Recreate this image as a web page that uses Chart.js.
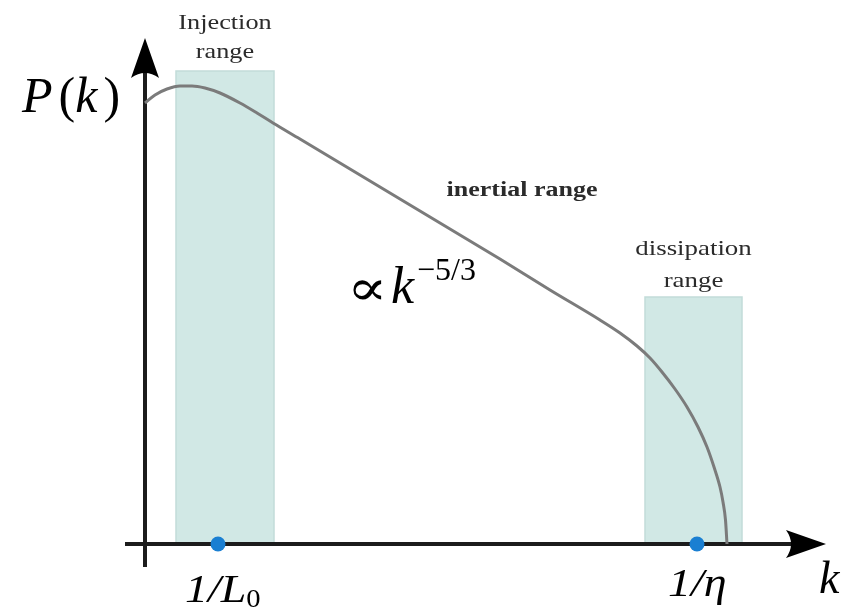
<!DOCTYPE html>
<html>
<head>
<meta charset="utf-8">
<script src="https://cdn.jsdelivr.net/npm/chart.js@4.4.1/dist/chart.umd.min.js"></script>
<style>
  html, body { margin: 0; padding: 0; background: #fff; }
  #wrap { width: 850px; height: 610px; }
</style>
</head>
<body>
<div id="wrap"><canvas id="spectrum" width="850" height="610"></canvas></div>
<script>
// energy spectrum P(k), schematic units (k grows to the right)
const kValues = [0, 10, 22, 35, 47, 60, 75, 95, 112, 128, 155, 205, 255, 305, 355, 405, 455, 475, 492, 505, 517, 530, 542, 553, 562, 569, 575, 578, 580.5, 582];
const pValues = [441, 449, 455, 458, 458, 456, 451, 441, 431, 421, 405, 375, 345, 315, 285, 254, 224, 211, 198, 186, 172, 155, 137, 117, 97, 77, 57, 42, 24, 0];

// shaded ranges: [kStart, kEnd], height
const injectionRange = [31, 129];
const injectionHeight = 473;
const dissipationRange = [500, 597];
const dissipationHeight = 247;

// marked wavenumbers on the k axis
const markerK = [73, 552];

const SERIF = '"Liberation Serif", "DejaVu Serif", serif';

function boxPoints(range, h) {
  return [
    { x: range[0], y: 0 }, { x: range[0], y: h },
    { x: range[1], y: h }, { x: range[1], y: 0 }
  ];
}

const boxStyle = {
  fill: 'origin',
  backgroundColor: '#d1e8e5',
  borderColor: '#c2dcd9',
  borderWidth: 1.5,
  pointRadius: 0,
  tension: 0,
  order: 5
};

// text stretched horizontally around its anchor, returns drawn width
function wideText(ctx, text, x, y, sx) {
  ctx.save();
  ctx.translate(x, y);
  ctx.scale(sx, 1);
  ctx.fillText(text, 0, 0);
  const w = ctx.measureText(text).width * sx;
  ctx.restore();
  return w;
}

// axes with arrow heads + all the annotation text
const sketchPlugin = {
  id: 'sketch',
  beforeDatasetDraw(chart, args) {
    if (args.index !== 2) return; // axes go under the curve, over the boxes
    const { ctx, scales: { x, y } } = chart;
    const x0 = x.getPixelForValue(0);
    const y0 = y.getPixelForValue(0);
    ctx.save();
    ctx.strokeStyle = '#1c1c1c';
    ctx.fillStyle = '#000';
    ctx.lineWidth = 4;
    // y axis
    ctx.beginPath();
    ctx.moveTo(x0, y.getPixelForValue(-23));
    ctx.lineTo(x0, y.getPixelForValue(480));
    ctx.stroke();
    // x axis
    ctx.beginPath();
    ctx.moveTo(x.getPixelForValue(-20), y0);
    ctx.lineTo(x.getPixelForValue(660), y0);
    ctx.stroke();
    // arrow up
    const ty = y.getPixelForValue(506);
    ctx.beginPath();
    ctx.moveTo(x0, ty);
    ctx.lineTo(x0 + 14, ty + 40);
    ctx.quadraticCurveTo(x0, ty + 30, x0 - 14, ty + 40);
    ctx.closePath();
    ctx.fill();
    // arrow right
    const tx = x.getPixelForValue(681);
    ctx.beginPath();
    ctx.moveTo(tx, y0);
    ctx.lineTo(tx - 40, y0 - 14);
    ctx.quadraticCurveTo(tx - 30, y0, tx - 40, y0 + 14);
    ctx.closePath();
    ctx.fill();
    ctx.restore();
  },
  afterDraw(chart) {
    const { ctx, scales: { x, y } } = chart;
    ctx.save();
    ctx.textBaseline = 'alphabetic';

    // range labels
    ctx.fillStyle = '#2b2b2b';
    ctx.textAlign = 'center';
    ctx.font = '21px ' + SERIF;
    const injC = x.getPixelForValue((injectionRange[0] + injectionRange[1]) / 2);
    const injTop = y.getPixelForValue(injectionHeight);
    wideText(ctx, 'Injection', injC, injTop - 42, 1.25);
    wideText(ctx, 'range', injC, injTop - 13, 1.25);
    const disC = x.getPixelForValue((dissipationRange[0] + dissipationRange[1]) / 2);
    const disTop = y.getPixelForValue(dissipationHeight);
    wideText(ctx, 'dissipation', disC, disTop - 42, 1.28);
    wideText(ctx, 'range', disC, disTop - 10, 1.28);
    ctx.font = 'bold 20px ' + SERIF;
    wideText(ctx, 'inertial range', 522, 196, 1.3);

    // P(k)
    ctx.fillStyle = '#000';
    ctx.textAlign = 'left';
    let cx = 22;
    const pieces = [['P', 'italic '], ['(', ''], ['k', 'italic '], [')', '']];
    const gaps = [6, 0, 6, 0];
    pieces.forEach(([t, st], i) => {
      ctx.font = st + '50px ' + SERIF;
      ctx.fillText(t, cx, 112);
      cx += ctx.measureText(t).width + gaps[i];
    });

    // proportional to k^-5/3
    ctx.font = '50px ' + SERIF;
    wideText(ctx, '\u221D', 347, 305, 1.2);
    ctx.font = 'italic 52px ' + SERIF;
    ctx.fillText('k', 391, 303);
    ctx.font = '32px ' + SERIF;
    ctx.fillText('\u22125/3', 417, 280);

    // marker labels under the axis
    const yl = y.getPixelForValue(0);
    ctx.font = 'italic 40px ' + SERIF;
    let lx = x.getPixelForValue(markerK[0]) - 33;
    lx += wideText(ctx, '1/L', lx, yl + 58, 1.15);
    ctx.font = '26px ' + SERIF;
    wideText(ctx, '0', lx, yl + 63, 1.1);
    ctx.font = 'italic 40px ' + SERIF;
    wideText(ctx, '1/\u03B7', x.getPixelForValue(markerK[1]) - 29, yl + 52, 1.15);
    ctx.font = 'italic 46px ' + SERIF;
    ctx.fillText('k', 819, yl + 49);
    ctx.restore();
  }
};

new Chart(document.getElementById('spectrum'), {
  type: 'line',
  data: {
    datasets: [
      Object.assign({ data: boxPoints(injectionRange, injectionHeight) }, boxStyle),
      Object.assign({ data: boxPoints(dissipationRange, dissipationHeight) }, boxStyle),
      {
        data: kValues.map((k, i) => ({ x: k, y: pValues[i] })),
        borderColor: '#7b7b7b',
        borderWidth: 3,
        pointRadius: 0,
        cubicInterpolationMode: 'monotone',
        fill: false,
        order: 1
      },
      {
        data: markerK.map(k => ({ x: k, y: 0 })),
        showLine: false,
        pointRadius: 7.5,
        pointBackgroundColor: '#1a7fd2',
        pointBorderWidth: 0,
        order: 0
      }
    ]
  },
  options: {
    responsive: false,
    animation: false,
    layout: { padding: { left: 125, right: 15, top: 40, bottom: 45 } },
    scales: {
      x: { type: 'linear', min: -20, max: 690, display: false },
      y: { type: 'linear', min: -21, max: 504, display: false }
    },
    plugins: {
      legend: { display: false },
      tooltip: { enabled: false }
    }
  },
  plugins: [sketchPlugin]
});
</script>
</body>
</html>
